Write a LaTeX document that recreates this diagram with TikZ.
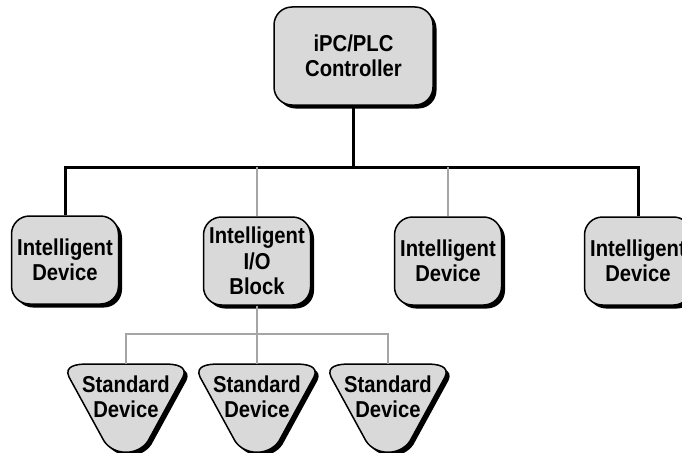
\documentclass[tikz,border=0pt]{standalone}
\usepackage{fontspec}
\newfontfamily\diagfont{Liberation Sans}[FakeStretch=0.88]
\usetikzlibrary{shadows}
\definecolor{boxgray}{RGB}{217,217,217}
\definecolor{linkgray}{RGB}{165,165,165}
\tikzset{
  labelfont/.style={font=\diagfont\bfseries\fontsize{23}{25.5}\selectfont},
  devbox/.style={labelfont, draw=black, line width=1.5pt, fill=boxgray,
    rounded corners=18pt, align=center, inner sep=0pt,
    minimum width=107pt, minimum height=88pt,
    drop shadow={shadow xshift=3.5pt, shadow yshift=-3.5pt, fill=black, opacity=1}},
  ctrlbox/.style={devbox, minimum width=159pt, minimum height=98pt},
  sdtext/.style={labelfont, align=center, inner sep=0pt},
  mainbus/.style={line width=3pt, line join=miter, draw=black},
  sublink/.style={line width=1.1pt, draw=linkgray},
  stdoutline/.style={rounded corners=0pt},
  stddev/.pic={
    \fill[black, shift={(3.5,3.5)}]
      (-57,13) .. controls (-62,2) and (-50,0) .. (-38,0) -- (38,0)
      .. controls (50,0) and (62,2) .. (57,13) -- (22,77)
      .. controls (12,92) and (-12,92) .. (-22,77) -- cycle;
    \filldraw[fill=boxgray, draw=black, line width=1.5pt]
      (-57,13) .. controls (-62,2) and (-50,0) .. (-38,0) -- (38,0)
      .. controls (50,0) and (62,2) .. (57,13) -- (22,77)
      .. controls (12,92) and (-12,92) .. (-22,77) -- cycle;
  }
}
\begin{document}
\begin{tikzpicture}[x=1pt, y=-1pt]
  \useasboundingbox (0,0) rectangle (682,452);
  \clip (0,0) rectangle (682,452);
  \fill[white] (0,0) rectangle (682,452);

  % bus levels
  \coordinate (busy) at (0,167);
  \coordinate (subbus) at (0,334);

  % controller and intelligent devices
  \node[ctrlbox] (ctrl) at (353.5,56) {iPC/PLC\\Controller};
  \node[devbox] (d1) at (65,260) {Intelligent\\Device};
  \node[devbox] (io) at (257,261) {Intelligent\\I/O\\Block};
  \node[devbox] (d3) at (448,261) {Intelligent\\Device};
  \node[devbox] (d4) at (638,261) {Intelligent\\Device};

  % standard devices
  \coordinate (s1t) at (126,364);
  \coordinate (s2t) at (257,364);
  \coordinate (s3t) at (388,364);
  \pic at (s1t) {stddev};
  \pic at (s2t) {stddev};
  \pic at (s3t) {stddev};
  \node[sdtext] (s1) at (126,397) {Standard\\Device};
  \node[sdtext] (s2) at (257,397) {Standard\\Device};
  \node[sdtext] (s3) at (388,397) {Standard\\Device};

  % main bus
  \draw[mainbus] (ctrl.south) -- (ctrl.south |- busy);
  \draw[mainbus] (d1.north) |- (d4.north |- busy) -- (d4.north);
  \draw[sublink] (io.north |- busy) -- (io.north);
  \draw[sublink] (d3.north |- busy) -- (d3.north);

  % sub bus of the I/O block
  \draw[sublink] (io.south) -- (s2t);
  \draw[sublink] (s1t) |- (s3t |- subbus) -- (s3t);
\end{tikzpicture}
\end{document}
